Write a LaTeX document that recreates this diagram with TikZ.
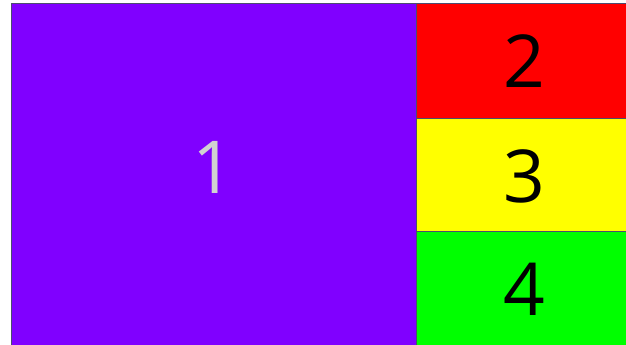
\documentclass[tikz,border=0pt]{standalone}
\usepackage{fontspec}
\setmainfont{Open Sans}
\begin{document}
\begin{tikzpicture}[x=1pt,y=-1pt,
  cell/.style={draw=black!65!blue!40!gray,line width=1pt},
  num/.style={font=\fontsize{73}{73}\selectfont,inner sep=0pt}]
\useasboundingbox (0,0) rectangle (626,345);
\definecolor{cpurple}{HTML}{8000FF}
\definecolor{cred}{HTML}{FF0000}
\definecolor{cyellow}{HTML}{FFFF00}
\definecolor{cgreen}{HTML}{00FF00}
\fill[cpurple] (11.5,3.5) rectangle (416,345);
\fill[cred] (416,3.5) rectangle (626,118);
\fill[cyellow] (416,118) rectangle (626,231);
\fill[cgreen] (416,231) rectangle (626,345);
\draw[cell] (11.5,345) -- (11.5,3.5) -- (626,3.5);
\draw[cell] (416,3.5) -- (416,345);
\draw[cell] (416,118) -- (626,118);
\draw[cell] (416,231) -- (626,231);
\node[num,text=black!18] (n1) at (213,167) {1};
\node[num] (n2) at (524,61) {2};
\node[num] (n3) at (524,176) {3};
\node[num] (n4) at (524,289) {4};
\end{tikzpicture}
\end{document}
